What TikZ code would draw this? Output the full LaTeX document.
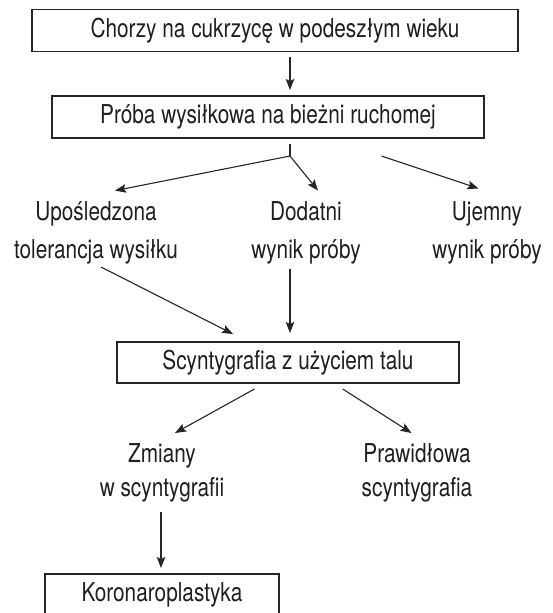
\documentclass[tikz,border=0pt]{standalone}
\usepackage{fontspec}
\setmainfont{TeX Gyre Heros}[FakeStretch=0.8]
\usetikzlibrary{arrows.meta}
\begin{document}
\begin{tikzpicture}[x=1pt,y=-1pt,
  box/.style={draw=black!85, line width=1.4pt, inner sep=0pt, outer sep=0pt, text=black!88,
    font=\fontsize{26}{30}\selectfont},
  lbl/.style={align=center, inner sep=0pt, outer sep=0pt, text=black!88,
    font=\fontsize{26}{38.5}\selectfont},
  lbltwo/.style={align=center, inner sep=0pt, outer sep=0pt, text=black!88,
    font=\fontsize{26}{33.5}\selectfont},
  arr/.style={draw=black!85, line width=1.1pt, -{Stealth[length=11pt,width=8.5pt,inset=2pt]}},
  ln/.style={draw=black!85, line width=1.1pt}]
\useasboundingbox (0,0) rectangle (552,613);
\clip (0,0) rectangle (552,613);
\fill[white] (0,0) rectangle (552,613);

% boxes
\node[box, minimum width=486pt, minimum height=42pt] (b1) at (275,30.5) {Chorzy na cukrzycę w podeszłym wieku};
\node[box, minimum width=432pt, minimum height=42pt] (b2) at (268,117) {Próba wysiłkowa na bieżni ruchomej};
\node[box, minimum width=342pt, minimum height=41pt] (b3) at (288,362.5) {Scyntygrafia z użyciem talu};
\node[box, minimum width=234pt, minimum height=42pt] (b4) at (162,595) {Koronaroplastyka};

% text nodes
\node[lbl] (up) at (96,233) {Upośledzona\\tolerancja wysiłku};
\node[lbl] (dod) at (306,233) {Dodatni\\wynik próby};
\node[lbl] (uje) at (487,233) {Ujemny\\wynik próby};
\node[lbltwo] (zm) at (162,473) {Zmiany\\w scyntygrafii};
\node[lbltwo] (pr) at (417,473) {Prawidłowa\\scyntygrafia};

% connector points
\coordinate (j) at (290,156);
\coordinate (tup) at (115,190.6);
\coordinate (tdod) at (318,190.6);
\coordinate (suje) at (381.5,156);
\coordinate (tuje) at (478.5,188.5);
\coordinate (sup2) at (101,267);
\coordinate (tb3a) at (233,334);
\coordinate (sdod) at (290,269);
\coordinate (tb3b) at (290,333);
\coordinate (szm) at (254.5,389);
\coordinate (tzm) at (175,433);
\coordinate (spr) at (342.7,389);
\coordinate (tpr) at (411.5,433);
\coordinate (szm2) at (161,512);
\coordinate (tb4) at (161,568);

% connectors
\draw[arr] ([xshift=15pt,yshift=-5.5pt]b1.south) -- ([xshift=22pt,yshift=6pt]b2.north);
\draw[ln] ([xshift=22pt,yshift=-5.7pt]b2.south) -- (j);
\draw[arr] (j) -- (tup);
\draw[arr] (j) -- (tdod);
\draw[arr] (suje) -- (tuje);
\draw[arr] (sup2) -- (tb3a);
\draw[arr] (sdod) -- (tb3b);
\draw[arr] (szm) -- (tzm);
\draw[arr] (spr) -- (tpr);
\draw[arr] (szm2) -- (tb4);
\end{tikzpicture}
\end{document}
